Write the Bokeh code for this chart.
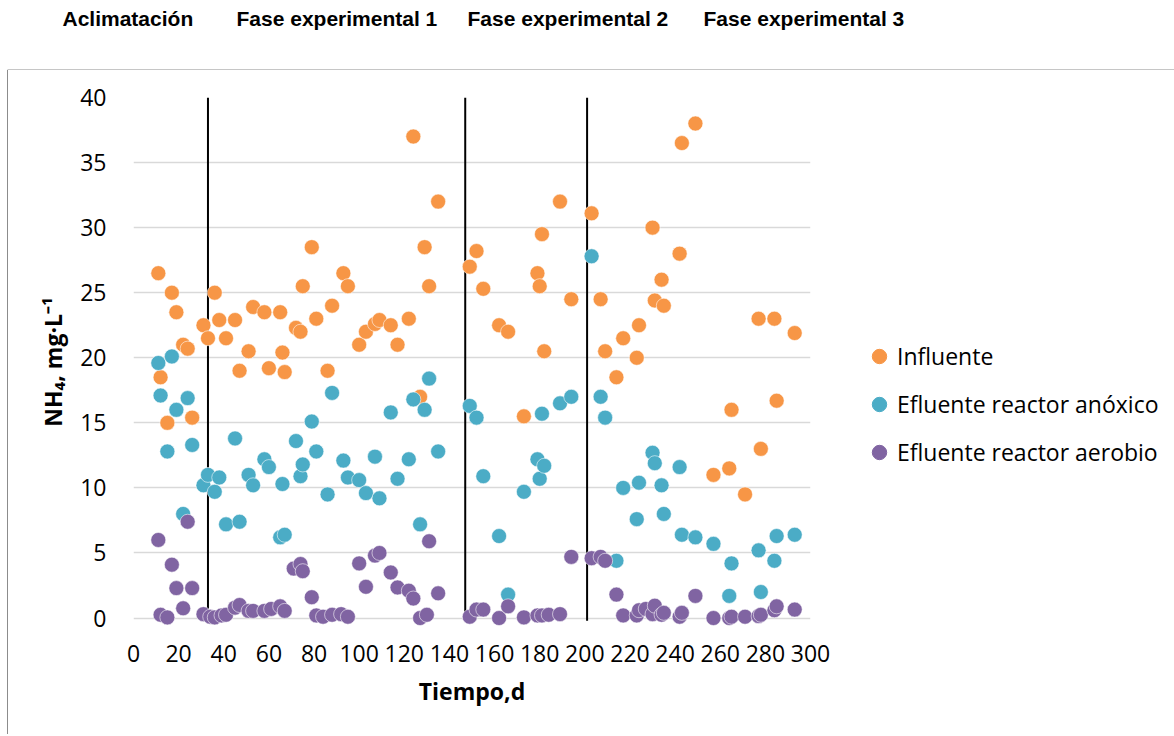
from bokeh.plotting import figure
from bokeh.models import Range1d, FixedTicker, Legend, LegendItem, Label
from bokeh.layouts import column, row
from bokeh.embed import file_html
from bokeh.resources import INLINE

# ---------------- data ----------------
header_labels = ["Aclimatación", "Fase experimental 1", "Fase experimental 2", "Fase experimental 3"]
phase_bounds = [33, 147, 201]

x_ticks = list(range(0, 301, 20))
y_ticks = list(range(0, 41, 5))

inf_x = [11, 12, 15, 17, 19, 22, 24, 26, 31, 33, 36, 38, 41, 45, 47, 51, 53, 58, 60, 65,
         66, 67, 72, 74, 75, 79, 81, 86, 88, 93, 95, 100, 103, 107, 109, 114, 117, 122, 124, 127,
         129, 131, 135, 149, 152, 155, 162, 166, 173, 179, 180, 181, 182, 189, 194, 203, 207, 209, 214, 217,
         223, 224, 230, 231, 234, 235, 242, 243, 249, 257, 264, 265, 271, 277, 278, 284, 285, 293]
inf_y = [26.5, 18.5, 15.0, 25.0, 23.5, 21.0, 20.7, 15.4, 22.5, 21.5, 25.0, 22.9, 21.5, 22.9, 19.0, 20.5, 23.9, 23.5, 19.2, 23.5,
         20.4, 18.9, 22.3, 22.0, 25.5, 28.5, 23.0, 19.0, 24.0, 26.5, 25.5, 21.0, 22.0, 22.6, 22.9, 22.5, 21.0, 23.0, 37.0, 17.0,
         28.5, 25.5, 32.0, 27.0, 28.2, 25.3, 22.5, 22.0, 15.5, 26.5, 25.5, 29.5, 20.5, 32.0, 24.5, 31.1, 24.5, 20.5, 18.5, 21.5,
         20.0, 22.5, 30.0, 24.4, 26.0, 24.0, 28.0, 36.5, 38.0, 11.0, 11.5, 16.0, 9.5, 23.0, 13.0, 23.0, 16.7, 21.9]

anox_x = [11, 12, 15, 17, 19, 22, 24, 26, 31, 33, 36, 38, 41, 45, 47, 51, 53, 58, 60, 65,
          66, 67, 72, 74, 75, 79, 81, 86, 88, 93, 95, 100, 103, 107, 109, 114, 117, 122, 124, 127,
          129, 131, 135, 149, 152, 155, 162, 166, 173, 179, 180, 181, 182, 189, 194, 203, 207, 209, 214, 217,
          223, 224, 230, 231, 234, 235, 242, 243, 249, 257, 264, 265, 277, 278, 284, 285, 293]
anox_y = [19.6, 17.1, 12.8, 20.1, 16.0, 8.0, 16.9, 13.3, 10.2, 11.0, 9.7, 10.8, 7.2, 13.8, 7.4, 11.0, 10.2, 12.2, 11.6, 6.2,
          10.3, 6.4, 13.6, 10.9, 11.8, 15.1, 12.8, 9.5, 17.3, 12.1, 10.8, 10.6, 9.6, 12.4, 9.2, 15.8, 10.7, 12.2, 16.8, 7.2,
          16.0, 18.4, 12.8, 16.3, 15.4, 10.9, 6.3, 1.8, 9.7, 12.2, 10.7, 15.7, 11.7, 16.5, 17.0, 27.8, 17.0, 15.4, 4.4, 10.0,
          7.6, 10.4, 12.7, 11.9, 10.2, 8.0, 11.6, 6.4, 6.2, 5.7, 1.7, 4.2, 5.2, 2.0, 4.4, 6.3, 6.4]

aer_x = [11, 12, 15, 17, 19, 22, 24, 26, 31, 34, 36, 39, 41, 45, 47, 51, 53, 58, 61, 65,
         67, 71, 74, 75, 79, 81, 84, 88, 92, 95, 100, 103, 107, 109, 114, 117, 122, 124, 127, 130,
         131, 135, 149, 152, 155, 162, 166, 173, 179, 181, 184, 189, 194, 203, 207, 209, 214, 217, 223, 224,
         227, 230, 231, 234, 235, 242, 243, 249, 257, 264, 265, 271, 277, 278, 284, 285, 293]
aer_y = [6.0, 0.25, 0.05, 4.1, 2.3, 0.75, 7.4, 2.3, 0.3, 0.1, 0.05, 0.2, 0.25, 0.8, 1.0, 0.55, 0.55, 0.55, 0.7, 0.9,
         0.55, 3.8, 4.15, 3.6, 1.6, 0.2, 0.1, 0.25, 0.3, 0.1, 4.2, 2.4, 4.8, 5.0, 3.5, 2.35, 2.1, 1.5, 0.0, 0.25,
         5.9, 1.9, 0.1, 0.65, 0.65, 0.0, 0.9, 0.05, 0.2, 0.2, 0.25, 0.3, 4.7, 4.6, 4.7, 4.4, 1.8, 0.2, 0.2, 0.6,
         0.7, 0.3, 0.95, 0.25, 0.4, 0.1, 0.4, 1.7, 0.0, 0.0, 0.1, 0.1, 0.15, 0.25, 0.6, 0.9, 0.65]

series_names = ["Influente", "Efluente reactor anóxico", "Efluente reactor aerobio"]
series_colors = ["#F79646", "#4BACC6", "#8064A2"]

x_min, x_max = 0, 300
y_min, y_max = 0, 40

FONT = "Open Sans"
BOX = "#8c8c8c"
NAN = float("nan")

# ---------------- header strip (titles + top edge of chart box) ----------------
hp = figure(width=1174, height=70, x_range=Range1d(0, 1174), y_range=Range1d(0, 70),
            min_border=0, x_axis_location=None, y_axis_location=None,
            output_backend="svg", toolbar_location=None)
hp.outline_line_color = None
hp.grid.visible = False
hp.segment(x0=[7], y0=[0.5], x1=[1174], y1=[0.5], line_color=BOX, line_width=1)
header_left = [62, 236, 467, 703]
for t, hx in zip(header_labels, header_left):
    hp.add_layout(Label(x=hx, y=52, x_units="screen", y_units="screen", text=t,
                        text_font="Liberation Sans", text_font_style="bold", text_font_size="21px",
                        text_color="black", text_baseline="middle", text_align="left"))

# ---------------- main scatter plot ----------------
p = figure(width=832, height=664,
           x_range=Range1d(x_min, x_max), y_range=Range1d(y_min - 0.65, y_max),
           output_backend="svg", toolbar_location=None,
           min_border_left=125, min_border_right=30, min_border_top=27, min_border_bottom=108,
           margin=(0, 0, 0, 7), styles={"border-left": f"1px solid {BOX}"})
p.outline_line_color = None

p.xaxis.ticker = FixedTicker(ticks=x_ticks)
p.yaxis.ticker = FixedTicker(ticks=y_ticks)
p.xgrid.ticker = FixedTicker(ticks=[x_min])
for g in (p.xgrid, p.ygrid):
    g.grid_line_color = "#d9d9d9"
    g.grid_line_width = 1.5

for ax in (p.xaxis, p.yaxis):
    ax.axis_line_color = None
    ax.major_tick_line_color = None
    ax.minor_tick_line_color = None
    ax.major_label_text_font = FONT
    ax.major_label_text_font_size = "23px"
    ax.major_label_text_color = "black"
    ax.axis_label_text_font = FONT
    ax.axis_label_text_font_size = "23px"
    ax.axis_label_text_font_style = "bold"
    ax.axis_label_text_color = "black"

p.xaxis.axis_label = "Tiempo,d"
p.yaxis.axis_label = "NH\u2084, mg\u00b7L\u207b\u00b9"
p.yaxis.major_label_standoff = 21
p.xaxis.major_label_standoff = 12
p.yaxis.axis_label_standoff = 8
p.xaxis.axis_label_standoff = 10

# phase separators
p.segment(x0=phase_bounds, y0=[y_min - 0.2] * len(phase_bounds),
          x1=phase_bounds, y1=[y_max] * len(phase_bounds),
          line_color="black", line_width=2)

for xs, ys, col in zip([inf_x, anox_x, aer_x], [inf_y, anox_y, aer_y], series_colors):
    p.scatter(xs, ys, size=15, fill_color=col, line_color="white", line_width=0.8, line_alpha=0.7)

# ---------------- legend panel ----------------
lp = figure(width=330, height=664, x_range=Range1d(0, 1), y_range=Range1d(0, 1),
            min_border=0, x_axis_location=None, y_axis_location=None,
            output_backend="svg", toolbar_location=None)
lp.outline_line_color = None
lp.grid.visible = False
leg_renderers = [lp.scatter([NAN], [NAN], size=15, fill_color=col, line_color=col) for col in series_colors]
legend = Legend(items=[LegendItem(label=n, renderers=[r]) for n, r in zip(series_names, leg_renderers)],
                location=(22, 155), padding=0, margin=0, spacing=10,
                glyph_width=36, glyph_height=38, label_standoff=0,
                label_text_font=FONT, label_text_font_size="23px", label_text_color="black",
                border_line_color=None, background_fill_alpha=0)
lp.add_layout(legend, "center")

layout = column(hp, row(p, lp))

open("out.html", "w").write(file_html(layout, INLINE))
